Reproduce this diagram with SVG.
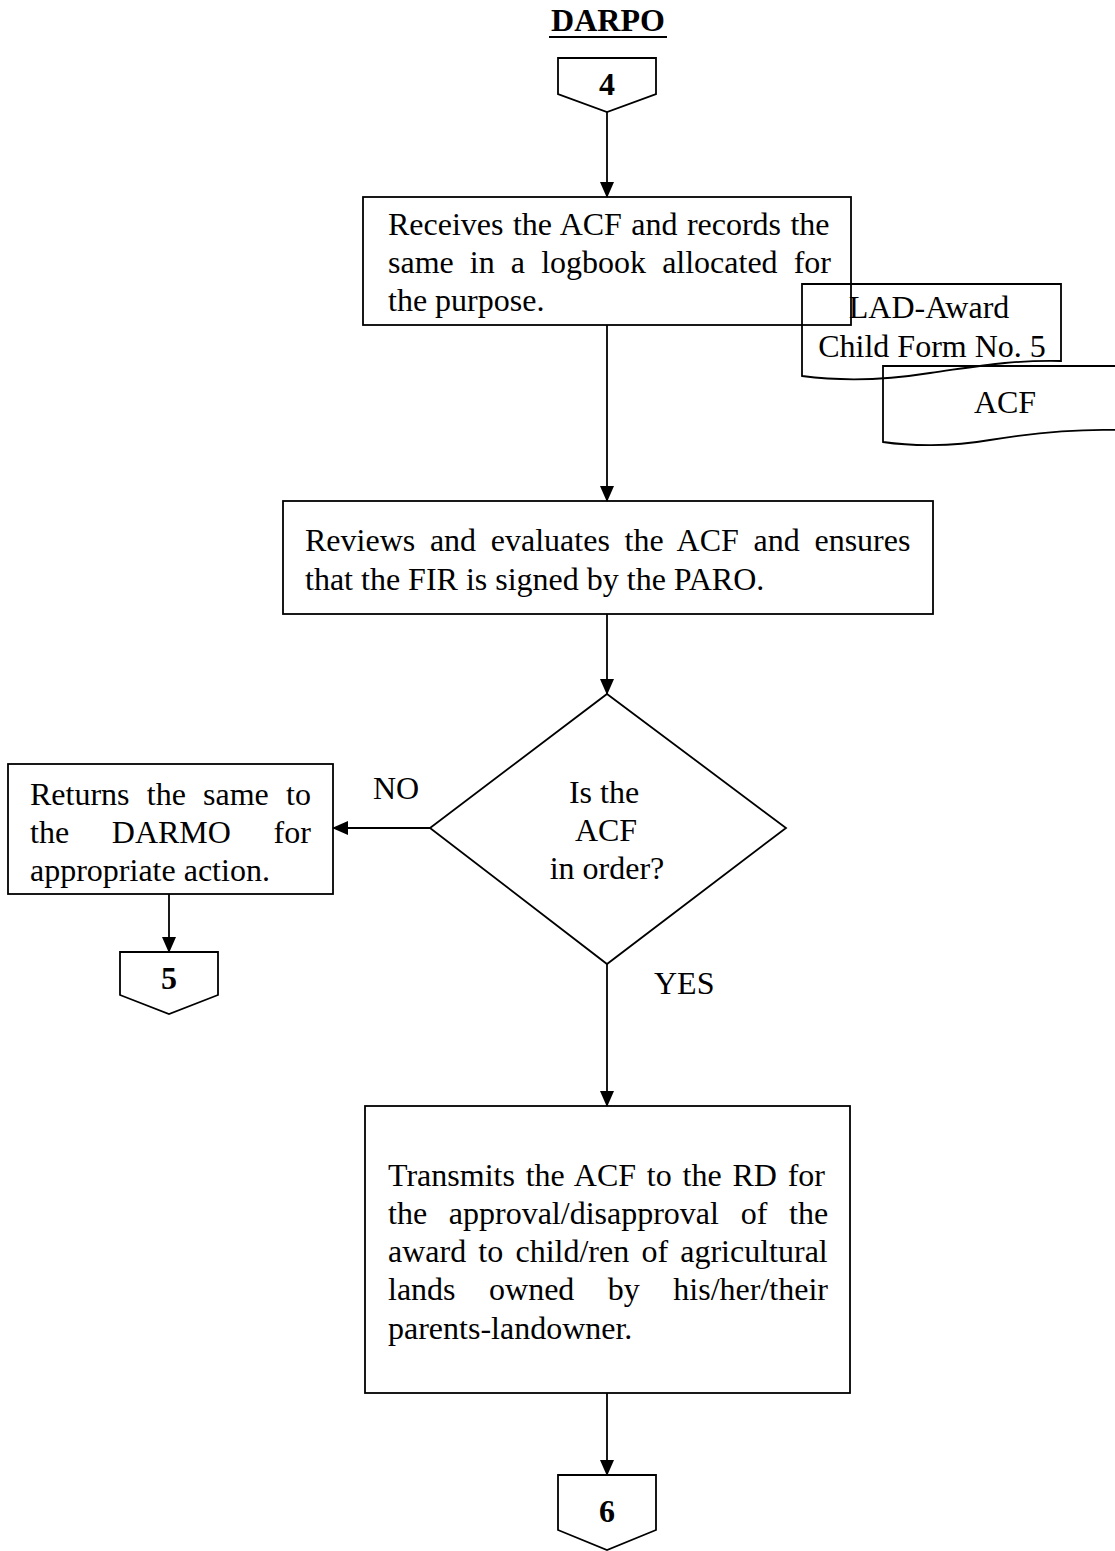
<svg xmlns="http://www.w3.org/2000/svg" width="1115" height="1551" viewBox="0 0 1115 1551">
<style>
.s{fill:none;stroke:#000;stroke-width:1.8}
.t{font-family:"Liberation Serif","Times New Roman",serif;font-size:32px;fill:#000}
.b{font-weight:bold}
.c{text-anchor:middle}
</style>
<defs>
<marker id="ah" markerWidth="16" markerHeight="14" refX="15" refY="7" orient="auto" markerUnits="userSpaceOnUse">
<path d="M0,0 L16,7 L0,14 Z" fill="#000"/>
</marker>
</defs>
<rect width="1115" height="1551" fill="#fff"/>
<g id="title">
<text class="t b c" x="608" y="31">DARPO</text>
<line x1="549" y1="37" x2="667" y2="37" stroke="#000" stroke-width="2"/>
</g>
<g id="conn4">
<path class="s" d="M558,58 H656 V94 L607,112 L558,94 Z"/>
<text class="t b c" x="607" y="95">4</text>
</g>
<g id="box1">
<rect class="s" x="363" y="197" width="488" height="128"/>
<text class="t" x="388" y="235" word-spacing="1.4">Receives the ACF and records the</text>
<text class="t" x="388" y="273" word-spacing="8.1">same in a logbook allocated for</text>
<text class="t" x="388" y="311">the purpose.</text>
</g>
<g id="doc-lad">
<path class="s" d="M802,284 H1061 V361 C1010,360 980,366 930,373 C880,381 840,381 802,376 Z"/>
<text class="t c" x="929" y="318">LAD-Award</text>
<text class="t c" x="932" y="357">Child Form No. 5</text>
</g>
<g id="doc-acf">
<path class="s" d="M1116,366 H883 V442 C910,446 950,447 990,440 C1040,432 1080,429 1116,430"/>
<text class="t c" x="1005" y="413">ACF</text>
</g>
<g id="box2">
<rect class="s" x="283" y="501" width="650" height="113"/>
<text class="t" x="305" y="551" word-spacing="6.7">Reviews and evaluates the ACF and ensures</text>
<text class="t" x="305" y="590">that the FIR is signed by the PARO.</text>
</g>
<g id="decision">
<path class="s" d="M607,694 L786,828 L607,964 L430,828 Z"/>
<text class="t c" x="604" y="803">Is the</text>
<text class="t c" x="606" y="841">ACF</text>
<text class="t c" x="607" y="879">in order?</text>
</g>
<g id="box-return">
<rect class="s" x="8" y="764" width="325" height="130"/>
<text class="t" x="30" y="805" word-spacing="9.2">Returns the same to</text>
<text class="t" x="30" y="843" word-spacing="34.7">the DARMO for</text>
<text class="t" x="30" y="881">appropriate action.</text>
</g>
<g id="conn5">
<path class="s" d="M120,952 H218 V995 L169,1014 L120,995 Z"/>
<text class="t b c" x="169" y="989">5</text>
</g>
<g id="box3">
<rect class="s" x="365" y="1106" width="485" height="287"/>
<text class="t" x="388" y="1186" word-spacing="2.8">Transmits the ACF to the RD for</text>
<text class="t" x="388" y="1224" word-spacing="13.7">the approval/disapproval of the</text>
<text class="t" x="388" y="1262" word-spacing="4.2">award to child/ren of agricultural</text>
<text class="t" x="388" y="1300" word-spacing="25.5">lands owned by his/her/their</text>
<text class="t" x="388" y="1339">parents-landowner.</text>
</g>
<g id="conn6">
<path class="s" d="M558,1475 H656 V1530 L607,1550 L558,1530 Z"/>
<text class="t b c" x="607" y="1522">6</text>
</g>
<g id="connectors">
<line class="s" x1="607" y1="112" x2="607" y2="197" marker-end="url(#ah)"/>
<line class="s" x1="607" y1="325" x2="607" y2="501" marker-end="url(#ah)"/>
<line class="s" x1="607" y1="614" x2="607" y2="694" marker-end="url(#ah)"/>
<line class="s" x1="430" y1="828" x2="333" y2="828" marker-end="url(#ah)"/>
<line class="s" x1="169" y1="894" x2="169" y2="952" marker-end="url(#ah)"/>
<line class="s" x1="607" y1="964" x2="607" y2="1106" marker-end="url(#ah)"/>
<line class="s" x1="607" y1="1393" x2="607" y2="1475" marker-end="url(#ah)"/>
<text class="t" x="373" y="799">NO</text>
<text class="t" x="654" y="994">YES</text>
</g>
</svg>
